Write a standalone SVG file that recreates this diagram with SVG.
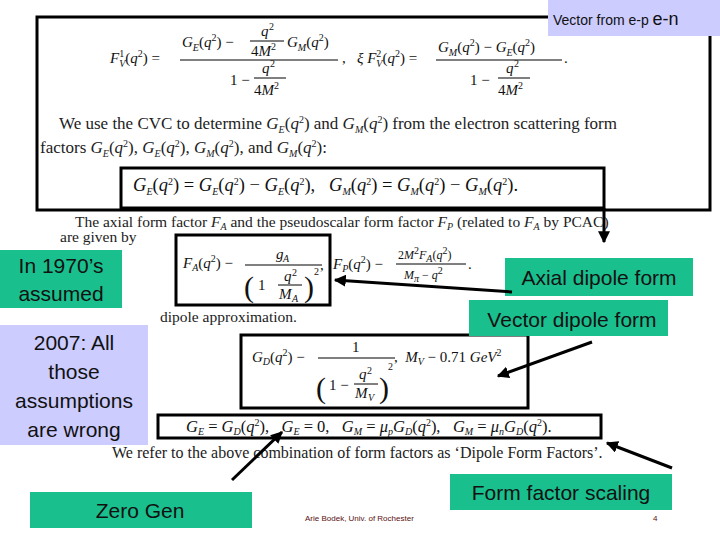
<svg xmlns="http://www.w3.org/2000/svg" width="720" height="540" viewBox="0 0 720 540">
<defs>
<style>
.m{font-family:"Liberation Serif",serif;font-size:15px;fill:#111;white-space:pre}
.i{font-style:italic}
.s{font-size:10px}
.t{font-family:"Liberation Serif",serif;font-size:15.5px;fill:#222;white-space:pre}
.e{font-size:17px}
.g{fill:#1abf8e}
.l{fill:#ccccff}
.b{font-family:"Liberation Sans",Arial,sans-serif;font-size:21px;fill:#111;text-anchor:middle}
.box{fill:none;stroke:#000;stroke-width:3}
.fl{stroke:#000;stroke-width:1}
.p{font-size:30px}
</style>
<marker id="ah" viewBox="0 0 10 10" refX="9" refY="5" markerWidth="4" markerHeight="4" orient="auto"><path d="M0,0L10,5L0,10z" fill="#000"/></marker>
</defs>
<rect width="720" height="540" fill="#fff"/>

<g id="top-box">
<rect class="box" x="37" y="17" width="673" height="193"/>
<text class="m" x="110" y="63"><tspan class="i">F</tspan><tspan class="s" dy="-6">1</tspan><tspan class="s i" dx="-5" dy="10">V</tspan><tspan dy="-4">(</tspan><tspan class="i">q</tspan><tspan class="s" dy="-6">2</tspan><tspan dy="6">) =</tspan></text>
<text class="m" x="182" y="47"><tspan class="i">G</tspan><tspan class="s i" dy="4">E</tspan><tspan dy="-4">(</tspan><tspan class="i">q</tspan><tspan class="s" dy="-6">2</tspan><tspan dy="6">) −</tspan></text>
<text class="m i" x="261" y="36">q</text><text class="m s" x="269" y="30">2</text>
<line class="fl" x1="250" y1="41" x2="284" y2="41"/>
<text class="m" x="251" y="56">4<tspan class="i">M</tspan><tspan class="s" dy="-6">2</tspan></text>
<text class="m" x="287" y="47"><tspan class="i">G</tspan><tspan class="s i" dy="4">M</tspan><tspan dy="-4">(</tspan><tspan class="i">q</tspan><tspan class="s" dy="-6">2</tspan><tspan dy="6">)</tspan></text>
<line class="fl" x1="180" y1="60" x2="338" y2="60"/>
<text class="m" x="230" y="85">1 −</text>
<text class="m i" x="262" y="73">q</text><text class="m s" x="270" y="67">2</text>
<line class="fl" x1="254" y1="78" x2="286" y2="78"/>
<text class="m" x="254" y="95">4<tspan class="i">M</tspan><tspan class="s" dy="-6">2</tspan></text>
<text class="m" x="342" y="63">,   <tspan class="i">ξ F</tspan><tspan class="s" dy="-6">2</tspan><tspan class="s i" dx="-5" dy="10">V</tspan><tspan dy="-4">(</tspan><tspan class="i">q</tspan><tspan class="s" dy="-6">2</tspan><tspan dy="6">) =</tspan></text>
<text class="m" x="438" y="52"><tspan class="i">G</tspan><tspan class="s i" dy="4">M</tspan><tspan dy="-4">(</tspan><tspan class="i">q</tspan><tspan class="s" dy="-6">2</tspan><tspan dy="6">) − </tspan><tspan class="i">G</tspan><tspan class="s i" dy="4">E</tspan><tspan dy="-4">(</tspan><tspan class="i">q</tspan><tspan class="s" dy="-6">2</tspan><tspan dy="6">)</tspan></text>
<line class="fl" x1="436" y1="60" x2="562" y2="60"/>
<text class="m" x="564" y="63">.</text>
<text class="m" x="470" y="85">1 −</text>
<text class="m i" x="506" y="73">q</text><text class="m s" x="514" y="67">2</text>
<line class="fl" x1="498" y1="78" x2="530" y2="78"/>
<text class="m" x="498" y="95">4<tspan class="i">M</tspan><tspan class="s" dy="-6">2</tspan></text>
<text class="t e" x="59" y="129">We use the CVC to determine <tspan class="i">G</tspan><tspan class="s i" dy="4">E</tspan><tspan dy="-4">(</tspan><tspan class="i">q</tspan><tspan class="s" dy="-6">2</tspan><tspan dy="6">) and </tspan><tspan class="i">G</tspan><tspan class="s i" dy="4">M</tspan><tspan dy="-4">(</tspan><tspan class="i">q</tspan><tspan class="s" dy="-6">2</tspan><tspan dy="6">) from the electron scattering form</tspan></text>
<text class="t e" x="40" y="153">factors <tspan class="i">G</tspan><tspan class="s i" dy="4">E</tspan><tspan dy="-4">(</tspan><tspan class="i">q</tspan><tspan class="s" dy="-6">2</tspan><tspan dy="6">), </tspan><tspan class="i">G</tspan><tspan class="s i" dy="4">E</tspan><tspan dy="-4">(</tspan><tspan class="i">q</tspan><tspan class="s" dy="-6">2</tspan><tspan dy="6">), </tspan><tspan class="i">G</tspan><tspan class="s i" dy="4">M</tspan><tspan dy="-4">(</tspan><tspan class="i">q</tspan><tspan class="s" dy="-6">2</tspan><tspan dy="6">), and </tspan><tspan class="i">G</tspan><tspan class="s i" dy="4">M</tspan><tspan dy="-4">(</tspan><tspan class="i">q</tspan><tspan class="s" dy="-6">2</tspan><tspan dy="6">):</tspan></text>
<rect class="box" x="121" y="168" width="483" height="40"/>
<text class="m" x="133" y="191" style="font-size:18.5px"><tspan class="i">G</tspan><tspan class="s i" dy="4">E</tspan><tspan dy="-4">(</tspan><tspan class="i">q</tspan><tspan class="s" dy="-6">2</tspan><tspan dy="6">) = </tspan><tspan class="i">G</tspan><tspan class="s i" dy="4">E</tspan><tspan dy="-4">(</tspan><tspan class="i">q</tspan><tspan class="s" dy="-6">2</tspan><tspan dy="6">) − </tspan><tspan class="i">G</tspan><tspan class="s i" dy="4">E</tspan><tspan dy="-4">(</tspan><tspan class="i">q</tspan><tspan class="s" dy="-6">2</tspan><tspan dy="6">),   </tspan><tspan class="i">G</tspan><tspan class="s i" dy="4">M</tspan><tspan dy="-4">(</tspan><tspan class="i">q</tspan><tspan class="s" dy="-6">2</tspan><tspan dy="6">) = </tspan><tspan class="i">G</tspan><tspan class="s i" dy="4">M</tspan><tspan dy="-4">(</tspan><tspan class="i">q</tspan><tspan class="s" dy="-6">2</tspan><tspan dy="6">) − </tspan><tspan class="i">G</tspan><tspan class="s i" dy="4">M</tspan><tspan dy="-4">(</tspan><tspan class="i">q</tspan><tspan class="s" dy="-6">2</tspan><tspan dy="6">).</tspan></text>
</g>

<g id="vector-label">
<rect class="l" x="548" y="0" width="172" height="36"/>
<text x="553" y="25" font-family="Liberation Sans,Arial,sans-serif" font-size="14" fill="#111">Vector from e-p <tspan font-size="18">e-n</tspan></text>
</g>

<g id="axial-text">
<text class="t" x="75" y="227">The axial form factor <tspan class="i">F</tspan><tspan class="s i" dy="3">A</tspan><tspan dy="-3"> and the pseudoscalar form factor </tspan><tspan class="i">F</tspan><tspan class="s i" dy="3">P</tspan><tspan dy="-3"> (related to </tspan><tspan class="i">F</tspan><tspan class="s i" dy="3">A</tspan><tspan dy="-3"> by PCAC)</tspan></text>
<text class="t" x="60" y="242">are given by</text>
<text class="t" x="160" y="322">dipole approximation.</text>
</g>

<g id="fa-box">
<rect class="box" x="176" y="235" width="154" height="70"/>
<text class="m" x="183" y="268"><tspan class="i">F</tspan><tspan class="s i" dy="3">A</tspan><tspan dy="-3">(</tspan><tspan class="i">q</tspan><tspan class="s" dy="-6">2</tspan><tspan dy="6">) −</tspan></text>
<text class="m i" x="276" y="259">g</text><text class="m s i" x="283" y="262">A</text>
<line class="fl" x1="245" y1="265" x2="322" y2="265"/>
<text class="m p" x="244" y="297">(</text>
<text class="m" x="258" y="290">1</text>
<text class="m i" x="284" y="281">q</text><text class="m s" x="292" y="276">2</text>
<line class="fl" x1="278" y1="285" x2="302" y2="285"/>
<text class="m i" x="279" y="299">M</text><text class="m s i" x="292" y="302">A</text>
<text class="m p" x="304" y="297">)</text>
<text class="m s" x="314" y="275">2</text>
<text class="m" x="320" y="270">,</text>
<text class="m" x="333" y="269"><tspan class="i">F</tspan><tspan class="s i" dy="3">P</tspan><tspan dy="-3">(</tspan><tspan class="i">q</tspan><tspan class="s" dy="-6">2</tspan><tspan dy="6">) −</tspan></text>
<text class="m" x="398" y="259" style="font-size:12px">2<tspan class="i">M</tspan><tspan class="s" dy="-5">2</tspan><tspan class="i" dy="5">F</tspan><tspan class="s i" dy="3">A</tspan><tspan dy="-3">(</tspan><tspan class="i">q</tspan><tspan class="s" dy="-5">2</tspan><tspan dy="5">)</tspan></text>
<line class="fl" x1="396" y1="264" x2="466" y2="264"/>
<text class="m" x="404" y="279" style="font-size:12px"><tspan class="i">M</tspan><tspan class="s i" dy="3">π</tspan><tspan dy="-3"> − </tspan><tspan class="i">q</tspan><tspan class="s" dy="-5">2</tspan></text>
<text class="m" x="468" y="269">.</text>
</g>

<g id="gd-box">
<rect class="box" x="241" y="335" width="287" height="73"/>
<text class="m" x="252" y="362"><tspan class="i">G</tspan><tspan class="s i" dy="3">D</tspan><tspan dy="-3">(</tspan><tspan class="i">q</tspan><tspan class="s" dy="-6">2</tspan><tspan dy="6">) −</tspan></text>
<text class="m" x="352" y="352">1</text>
<line class="fl" x1="318" y1="358" x2="395" y2="358"/>
<text class="m p" x="316" y="398">(</text>
<text class="m" x="329" y="390">1 −</text>
<text class="m i" x="359" y="379">q</text><text class="m s" x="367" y="374">2</text>
<line class="fl" x1="354" y1="384" x2="378" y2="384"/>
<text class="m i" x="355" y="398">M</text><text class="m s i" x="368" y="401">V</text>
<text class="m p" x="379" y="398">)</text>
<text class="m s" x="388" y="370">2</text>
<text class="m" x="394" y="362">,  <tspan class="i">M</tspan><tspan class="s i" dy="3">V</tspan><tspan dy="-3"> − 0.71 </tspan><tspan class="i">GeV</tspan><tspan class="s" dy="-6">2</tspan></text>
</g>

<g id="ge-box">
<rect class="box" x="158" y="415" width="443" height="23"/>
<text class="m" x="186" y="432" style="font-size:16.5px"><tspan class="i">G</tspan><tspan class="s i" dy="3">E</tspan><tspan dy="-3"> = </tspan><tspan class="i">G</tspan><tspan class="s i" dy="3">D</tspan><tspan dy="-3">(</tspan><tspan class="i">q</tspan><tspan class="s" dy="-6">2</tspan><tspan dy="6">),   </tspan><tspan class="i">G</tspan><tspan class="s i" dy="3">E</tspan><tspan dy="-3"> = 0,   </tspan><tspan class="i">G</tspan><tspan class="s i" dy="3">M</tspan><tspan dy="-3"> = </tspan><tspan class="i">μ</tspan><tspan class="s i" dy="3">p</tspan><tspan class="i" dy="-3">G</tspan><tspan class="s i" dy="3">D</tspan><tspan dy="-3">(</tspan><tspan class="i">q</tspan><tspan class="s" dy="-6">2</tspan><tspan dy="6">),   </tspan><tspan class="i">G</tspan><tspan class="s i" dy="3">M</tspan><tspan dy="-3"> = </tspan><tspan class="i">μ</tspan><tspan class="s i" dy="3">n</tspan><tspan class="i" dy="-3">G</tspan><tspan class="s i" dy="3">D</tspan><tspan dy="-3">(</tspan><tspan class="i">q</tspan><tspan class="s" dy="-6">2</tspan><tspan dy="6">).</tspan></text>
<text class="t" x="112" y="458" style="font-size:16px">We refer to the above combination of form factors as ‘Dipole Form Factors’.</text>
</g>

<g id="n1970"><rect class="g" x="0" y="250" width="122" height="58"/><text class="b" x="61" y="273">In 1970’s</text><text class="b" x="61" y="301">assumed</text></g>
<g id="n2007"><rect class="l" x="0" y="325" width="148" height="120"/><text class="b" x="74" y="350">2007: All</text><text class="b" x="74" y="379">those</text><text class="b" x="74" y="408">assumptions</text><text class="b" x="74" y="437">are wrong</text></g>
<g id="naxial"><rect class="g" x="505" y="258" width="188" height="38"/><text class="b" x="599" y="285">Axial dipole form</text></g>
<g id="nvector"><rect class="g" x="469" y="300" width="199" height="36"/><text class="b" x="572" y="327">Vector dipole form</text></g>
<g id="nzero"><rect class="g" x="30" y="492" width="222" height="36"/><text class="b" x="140" y="518">Zero Gen</text></g>
<g id="nscaling"><rect class="g" x="450" y="474" width="222" height="36"/><text class="b" x="561" y="500">Form factor scaling</text></g>

<g id="footer">
<text x="305" y="521" font-family="Liberation Sans,Arial,sans-serif" font-size="8" fill="#5a1010">Arie Bodek, Univ. of Rochester</text>
<text x="653" y="521" font-family="Liberation Sans,Arial,sans-serif" font-size="8" fill="#5a1010">4</text>
</g>

<g id="connectors" stroke="#000" stroke-width="3" fill="none" marker-end="url(#ah)">
<line x1="604" y1="208" x2="604" y2="242"/>
<line x1="512" y1="292" x2="335" y2="280"/>
<line x1="592" y1="342" x2="498" y2="376"/>
<line x1="232" y1="480" x2="282" y2="432"/>
<line x1="672" y1="468" x2="607" y2="443"/>
</g>
</svg>
